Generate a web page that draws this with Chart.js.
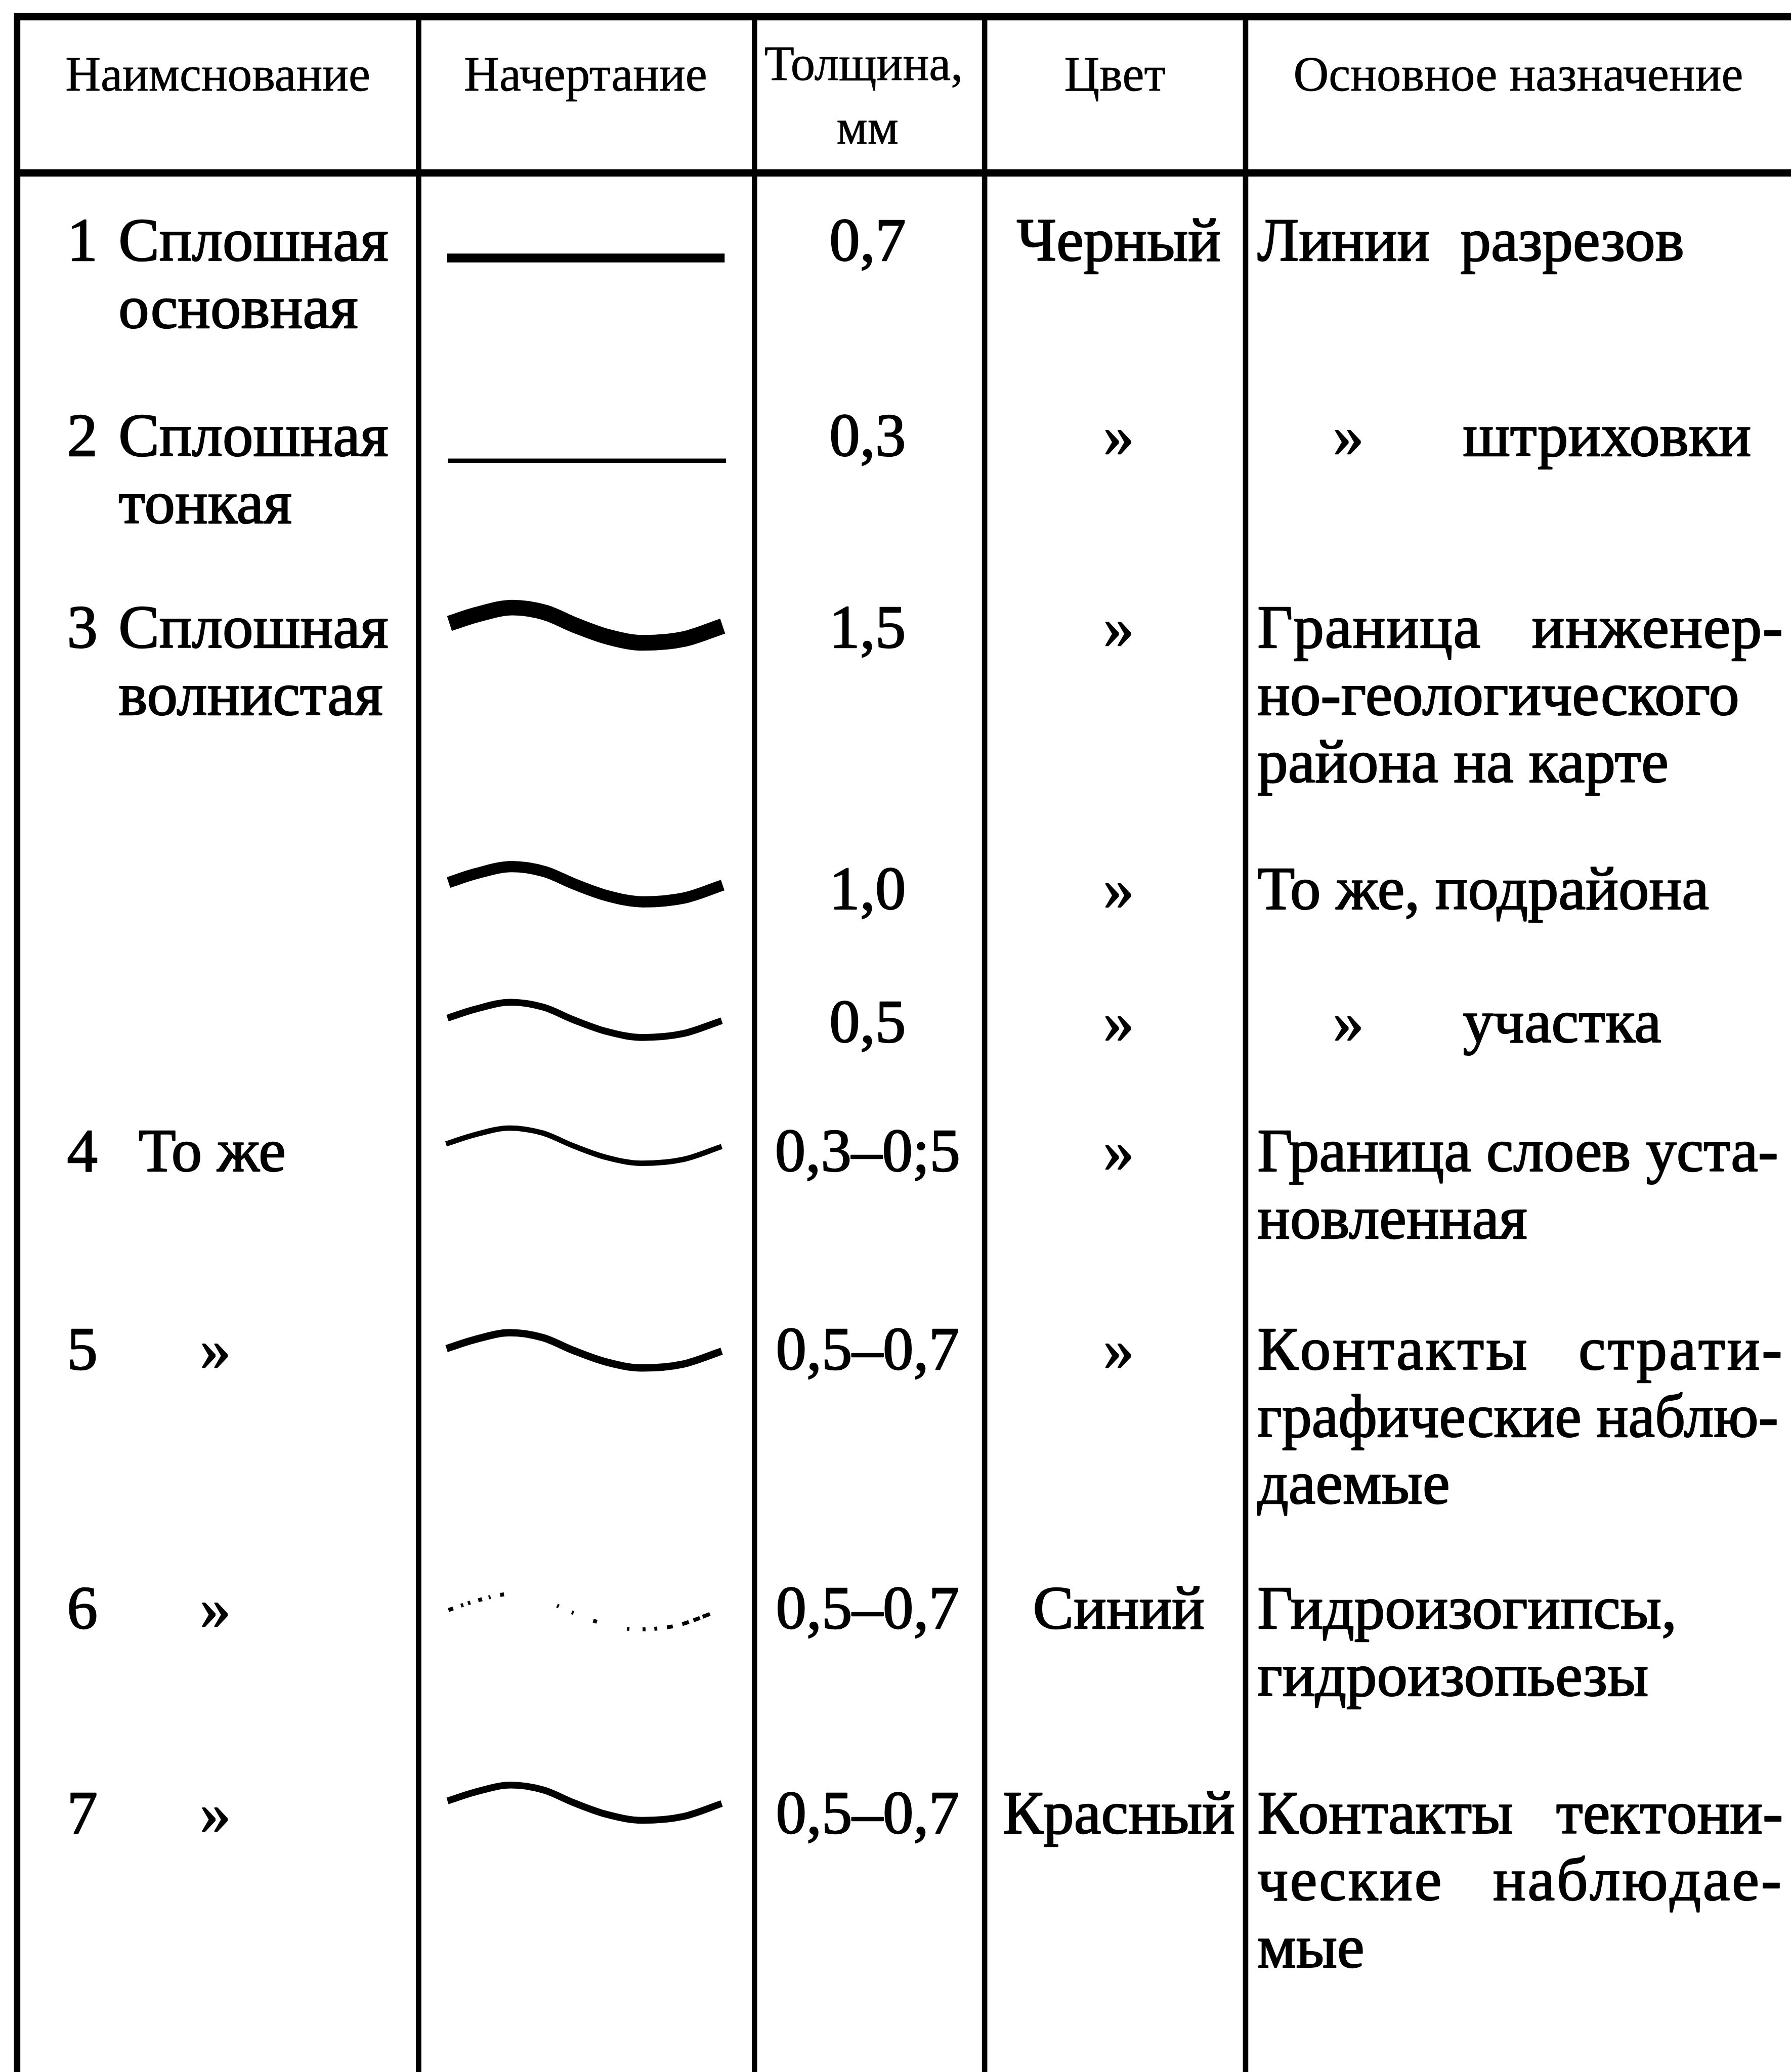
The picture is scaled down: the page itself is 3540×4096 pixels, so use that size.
<!DOCTYPE html>
<html lang="ru">
<head>
<meta charset="utf-8">
<title>Линии на инженерно-геологических картах</title>
<script src="https://cdn.jsdelivr.net/npm/chart.js"></script>
<style>
  html, body { margin: 0; padding: 0; background: #fff; }
  #wrap { width: 3540px; height: 4096px; }
</style>
</head>
<body>
<div id="wrap"><canvas id="tableChart" width="3540" height="4096"></canvas></div>
<script>
// ---- table content ----
const headerTitles = ["Наимснование", "Начертание", "Толщина,", "Цвет", "Основное назначение"];
const headerUnit = "мм";

const rowNumbers = ["1", "2", "3", "", "", "4", "5", "6", "7"];
const rowNames = [
  ["Сплошная", "основная"],
  ["Сплошная", "тонкая"],
  ["Сплошная", "волнистая"],
  [],
  [],
  ["То же"],
  ["»"],
  ["»"],
  ["»"]
];
const thicknessLabels = ["0,7", "0,3", "1,5", "1,0", "0,5", "0,3–0;5", "0,5–0,7", "0,5–0,7", "0,5–0,7"];
const colourLabels = ["Черный", "»", "»", "»", "»", "»", "»", "Синий", "Красный"];
const purposeLines = [
  ["Линии  разрезов"],
  ["» штриховки"],
  ["Граница инженер-", "но-геологического", "района на карте"],
  ["То же, подрайона"],
  ["» участка"],
  ["Граница слоев уста-", "новленная"],
  ["Контакты страти-", "графические наблю-", "даемые"],
  ["Гидроизогипсы,", "гидроизопьезы"],
  ["Контакты тектони-", "ческие наблюдае-", "мые"]
];
const sketchKinds = ["solid", "solid", "wave", "wave", "wave", "wave", "wave", "dots", "wave"];

// shape of the sample lines: x 0..1 across the sample, y 1 = crest, -1 = trough
const waveX = [0, 0.1, 0.23, 0.35, 0.46, 0.58, 0.71, 0.86, 1];
const waveY = [0.1, 0.6, 1, 0.72, 0, -0.66, -1, -0.78, -0.05];
const solidX = [0, 1];
const solidY = [0, 0];

// ---- layout, in pixels of the reference picture ----
const REF_W = 3658, REF_H = 4232;
const S = 3540 / REF_W;
const colEdges = [35, 855, 1541, 2011, 2544];
const topRule = 34, headRule = 353;
const headerX = [445, 1196, 1764, 2277, 3101];
const headerBase = 185, thickHeadBase = 163, unitBase = 293, unitX = 1772;
const rowBase = [532, 931, 1323, 1857, 2128, 2392, 2797, 3326, 3744];
const lineStep = 137;
const numberX = 137, nameX = 242, nameX2 = 283, nameDittoX = 440;
const thickX = 1772, colourX = 2285;
const purposeX = 2568, purposeRight = 3632, purposeDittoX = 2754, purposeAfterDitto = 2988;
const maxWordGap = 105;
const sketchSpan = [[913, 1480], [915, 1483], [918, 1476], [916, 1476], [914, 1474], [911, 1474], [912, 1474], [916, 1458], [914, 1474]];
const sketchMid = [527, 941, 1277, 1806, 2083, 2340, 2758, 3292, 3682];
const strokeRef = [18, 9, 32, 23, 14, 11, 15, 8, 14];
const waveAmp = 36;
const dotDash = [10, 17, 5, 10, 5, 17, 8, 14, 4, 20, 8, 112, 4, 29, 4, 43, 8, 63, 5, 27, 6, 18, 6, 20, 12, 20, 14, 10, 14, 6, 16, 40];

const serif = '"Liberation Serif", "DejaVu Serif", serif';
const bodyFont = (125 * S) + "px " + serif;
const headFont = (100 * S) + "px " + serif;

const datasets = sketchKinds.map((kind, i) => {
  const xs = kind === "solid" ? solidX : waveX;
  const ys = kind === "solid" ? solidY : waveY;
  const [x0, x1] = sketchSpan[i];
  return {
    label: thicknessLabels[i],
    data: xs.map((fx, k) => ({ x: x0 + fx * (x1 - x0), y: sketchMid[i] - ys[k] * waveAmp })),
    borderColor: "#000",
    borderWidth: strokeRef[i] * S,
    borderCapStyle: "butt",
    borderDash: kind === "dots" ? dotDash.map(v => v * S) : [],
    cubicInterpolationMode: "monotone",
    pointRadius: 0,
    fill: false
  };
});

function drawText(ctx, text, px, py, stroke) {
  ctx.fillText(text, px, py);
  if (stroke) ctx.strokeText(text, px, py);
}

// draws a word letter by letter with extra spacing, returns end x
function drawSpaced(ctx, word, px, py, extra) {
  let cx = px;
  for (const ch of word) {
    drawText(ctx, ch, cx, py, true);
    cx += ctx.measureText(ch).width + extra;
  }
  return cx - extra;
}

function drawJustified(ctx, text, px0, px1, py) {
  const words = text.split(/\s+/);
  const widths = words.map(w => ctx.measureText(w).width);
  const sum = widths.reduce((a, b) => a + b, 0);
  const target = px1 - px0;
  if (words.length < 2 || sum + ctx.measureText(" ").width * (words.length - 1) > target) {
    const natural = ctx.measureText(text).width;
    const k = natural > target ? target / natural : 1;
    ctx.save();
    ctx.translate(px0, py);
    ctx.scale(k, 1);
    drawText(ctx, text, 0, 0, true);
    ctx.restore();
    return;
  }
  const free = target - sum;
  const gap = Math.min(free / (words.length - 1), maxWordGap * S);
  const letters = words.reduce((n, w) => n + [...w].length - 1, 0);
  const extra = (free - gap * (words.length - 1)) / Math.max(letters, 1);
  let cx = px0;
  words.forEach((w, i) => {
    const end = drawSpaced(ctx, w, cx, py, extra);
    cx = end + gap;
  });
}

const tablePlugin = {
  id: "tableGrid",
  beforeDatasetsDraw(chart) {
    const { ctx, scales: { x, y } } = chart;
    ctx.save();
    ctx.strokeStyle = "#000";
    ctx.lineCap = "butt";
    colEdges.forEach((cx, i) => {
      ctx.lineWidth = (i === 0 ? 13 : 11) * S;
      ctx.beginPath();
      ctx.moveTo(x.getPixelForValue(cx), y.getPixelForValue(topRule - 7));
      ctx.lineTo(x.getPixelForValue(cx), y.getPixelForValue(REF_H));
      ctx.stroke();
    });
    ctx.lineWidth = 15 * S;
    [topRule, headRule].forEach(ry => {
      ctx.beginPath();
      ctx.moveTo(x.getPixelForValue(colEdges[0] - 6), y.getPixelForValue(ry));
      ctx.lineTo(x.getPixelForValue(REF_W), y.getPixelForValue(ry));
      ctx.stroke();
    });
    ctx.restore();
  },
  afterDatasetsDraw(chart) {
    const { ctx, scales: { x, y } } = chart;
    const X = v => x.getPixelForValue(v);
    const Y = v => y.getPixelForValue(v);
    ctx.save();
    ctx.fillStyle = "#000";
    ctx.strokeStyle = "#000";
    ctx.lineJoin = "round";
    ctx.textBaseline = "alphabetic";

    // header
    ctx.font = headFont;
    ctx.lineWidth = 0.8 * S;
    ctx.textAlign = "center";
    headerTitles.forEach((t, i) => {
      drawText(ctx, t, X(headerX[i]), Y(i === 2 ? thickHeadBase : headerBase), true);
    });
    drawText(ctx, headerUnit, X(unitX), Y(unitBase), true);

    // body
    ctx.font = bodyFont;
    ctx.lineWidth = 2.4 * S;
    rowNumbers.forEach((num, i) => {
      const base = rowBase[i];
      ctx.textAlign = "left";
      if (num) drawText(ctx, num, X(numberX), Y(base), true);
      rowNames[i].forEach((name, j) => {
        if (name === "»") {
          ctx.textAlign = "center";
          drawText(ctx, name, X(nameDittoX), Y(base + j * lineStep), true);
        } else {
          ctx.textAlign = "left";
          drawText(ctx, name, X(num === "4" ? nameX2 : nameX), Y(base + j * lineStep), true);
        }
      });
      ctx.textAlign = "center";
      drawText(ctx, thicknessLabels[i], X(thickX), Y(base), true);
      drawText(ctx, colourLabels[i], X(colourX), Y(base), true);

      purposeLines[i].forEach((line, j) => {
        const py = Y(base + j * lineStep);
        if (line.startsWith("» ")) {
          ctx.textAlign = "center";
          drawText(ctx, "»", X(purposeDittoX), py, true);
          ctx.textAlign = "left";
          drawText(ctx, line.slice(2), X(purposeAfterDitto), py, true);
        } else if (line.endsWith("-") || line === "но-геологического") {
          ctx.textAlign = "left";
          drawJustified(ctx, line, X(purposeX), X(purposeRight), py);
        } else {
          ctx.textAlign = "left";
          drawText(ctx, line, X(purposeX), py, true);
        }
      });
    });
    ctx.restore();
  }
};

new Chart(document.getElementById("tableChart"), {
  type: "line",
  data: { datasets: datasets },
  options: {
    responsive: false,
    animation: false,
    events: [],
    layout: { padding: 0 },
    plugins: {
      legend: { display: false },
      tooltip: { enabled: false },
      title: { display: false }
    },
    scales: {
      x: { type: "linear", min: 0, max: REF_W, display: false },
      y: { type: "linear", min: 0, max: REF_H, reverse: true, display: false }
    }
  },
  plugins: [tablePlugin]
});
</script>
</body>
</html>
